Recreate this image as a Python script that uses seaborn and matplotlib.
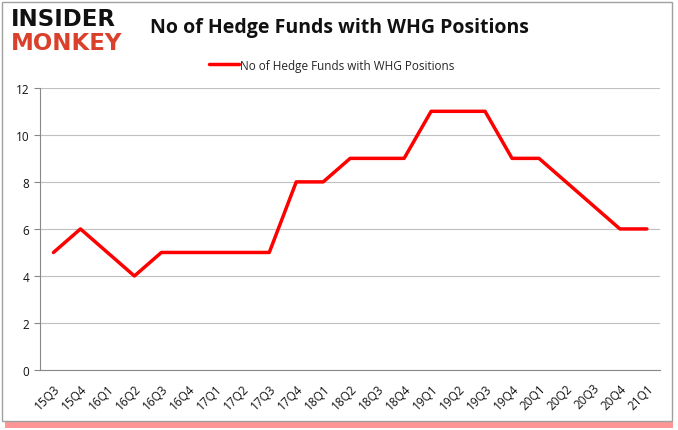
import numpy as np
import pandas as pd
import seaborn as sns
import matplotlib.pyplot as plt
from matplotlib.patches import Rectangle

quarters = ["15Q3", "15Q4", "16Q1", "16Q2", "16Q3", "16Q4", "17Q1", "17Q2", "17Q3",
            "17Q4", "18Q1", "18Q2", "18Q3", "18Q4", "19Q1", "19Q2", "19Q3", "19Q4",
            "20Q1", "20Q2", "20Q3", "20Q4", "21Q1"]
funds = [5, 6, 5, 4, 5, 5, 5, 5, 5, 8, 8, 9, 9, 9, 11, 11, 11, 9, 9, 8, 7, 6, 6]
series_name = "No of Hedge Funds with WHG Positions"

df = pd.DataFrame({"quarter": quarters, "funds": funds})

sns.set_style("white")
plt.rcParams["font.family"] = ["Open Sans", "DejaVu Sans"]

fig = plt.figure(figsize=(6.78, 4.31), dpi=100)
ax = fig.add_axes([0.059, 0.139, 0.915, 0.655])

# frame with red shadow along the bottom
fig.patches.append(Rectangle((0.008, 0.004), 0.985, 0.98, transform=fig.transFigure,
                             facecolor="#ff4040", edgecolor="none", alpha=0.55, zorder=-3))
fig.patches.append(Rectangle((0.003, 0.022), 0.988, 0.972, transform=fig.transFigure,
                             facecolor="white", edgecolor="#a0a0a0", lw=1, zorder=-2))

sns.lineplot(data=df, x="quarter", y="funds", color="#ff0000", linewidth=2.5,
             ax=ax, label=series_name, sort=False)

ax.set_ylim(0, 12)
ax.set_yticks(range(0, 13, 2))
ax.set_xlim(-0.5, len(quarters) - 0.5)
ax.set_xticks(range(len(quarters)))
ax.set_xticklabels(quarters, rotation=45, fontsize=8.5, color="#111111",
                   ha="right", rotation_mode="anchor")
ax.set_xticks(np.arange(-0.5, len(quarters), 1), minor=True)
ax.tick_params(axis="x", which="major", length=0, pad=8)
ax.tick_params(axis="x", which="minor", length=4, color="#888888", direction="out")
ax.tick_params(axis="y", labelsize=8.5, length=4, color="#888888", left=True,
               labelcolor="#111111")
ax.grid(axis="y", color="#bfbfbf", linewidth=0.8)
ax.set_xlabel("")
ax.set_ylabel("")
for s in ["top", "right"]:
    ax.spines[s].set_visible(False)
for s in ["left", "bottom"]:
    ax.spines[s].set_color("#888888")
ax.set_facecolor("none")

ax.legend(loc="lower center", bbox_to_anchor=(0.47, 1.02), frameon=False, fontsize=8.5,
          handlelength=2.5, handletextpad=0.1)

fig.text(0.5, 0.935, "No of Hedge Funds with WHG Positions", ha="center", va="center",
         fontsize=14, fontweight="bold", color="#111111")
fig.text(0.016, 0.955, "INSIDER", ha="left", va="center", fontsize=16.5,
         fontweight="heavy", color="#111111", family="DejaVu Sans")
fig.text(0.016, 0.898, "MONKEY", ha="left", va="center", fontsize=16.5,
         fontweight="heavy", color="#d9412c", family="DejaVu Sans")

fig.savefig("out.png", dpi=100)
